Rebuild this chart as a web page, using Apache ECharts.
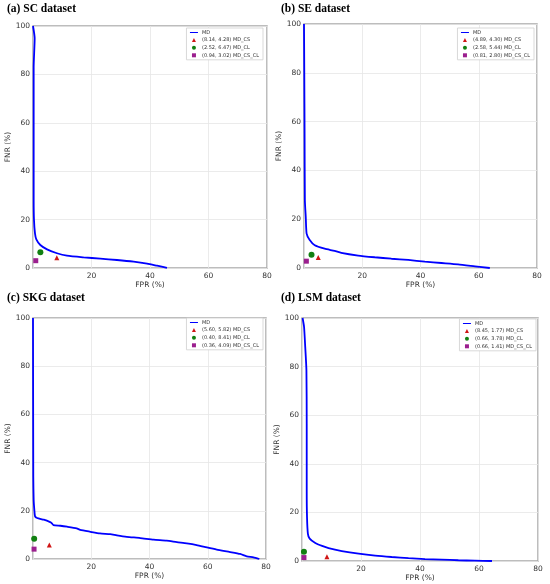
<!DOCTYPE html>
<html>
<head>
<meta charset="utf-8">
<script src="https://cdn.jsdelivr.net/npm/echarts@6/dist/echarts.min.js"></script>
<style>
  html, body { margin: 0; padding: 0; background: #fff; }
  #chart { width: 550px; height: 584px; }
</style>
</head>
<body>
<div id="chart"></div>
<script>
// panel titles
const titles = ['(a) SC dataset', '(b) SE dataset', '(c) SKG dataset', '(d) LSM dataset'];
const xTicks = [0, 20, 40, 60, 80];
const yTicks = [0, 20, 40, 60, 80, 100];

// MD curves (FPR %, FNR %)
const scFpr = [0, 0.57, 0.23, 0.23, 0.34, 0.68, 1.14, 2.5, 4.8, 8.2, 11.6, 17.3, 23, 28.7, 34.4, 39, 42.4, 45.8];
const scFnr = [100, 94.9, 83, 28, 19.8, 14.3, 11.8, 9.5, 7.7, 6.1, 5.1, 4.4, 3.86, 3.3, 2.6, 1.8, 0.96, 0.1];

const seFpr = [0, 0.1, 0.2, 0.3, 0.6, 0.9, 1.9, 3.7, 7.1, 10.5, 12.8, 18.6, 24.3, 30, 35.8, 41.5, 47.2, 52.9, 58.7, 63.8];
const seFnr = [100, 80, 55, 27.8, 21, 14.1, 11.6, 9.3, 7.9, 7.0, 6.2, 5.1, 4.4, 3.8, 3.3, 2.6, 2.05, 1.5, 0.7, 0];

const skgFpr = [0, 0.1, 0.23, 0.46, 0.7, 1.4, 3.7, 5.9, 6.4, 7, 9.4, 11.7, 15, 16.2, 19.7, 23, 26.5, 28.8, 32.2, 36.8, 41.4, 45.9, 49.4, 52.8, 56.2, 59.7, 63.1, 67.7, 71.1, 73.4, 75.7, 77.7];
const skgFnr = [100, 34, 24.5, 20.4, 17.7, 17, 16.3, 15.3, 14.9, 14.1, 13.8, 13.4, 12.7, 12.1, 11.3, 10.6, 10.3, 9.8, 9.2, 8.7, 8.0, 7.6, 7.0, 6.5, 5.8, 4.8, 3.9, 2.9, 2.1, 1.1, 0.7, 0];

const lsmFpr = [0.2, 0.7, 1.1, 1.5, 1.6, 1.6, 1.7, 2.0, 2.6, 4.5, 6.8, 9.0, 13.5, 19.2, 24.8, 30.4, 36.1, 41.7, 47.3, 53, 58.6, 64.4];
const lsmFnr = [100, 96.3, 88, 78.5, 56.5, 29, 18.1, 11.2, 9.2, 7.4, 6.2, 5.3, 4.1, 3.0, 2.2, 1.65, 1.2, 0.8, 0.55, 0.3, 0.14, 0];

// operating points: [MD_CS, MD_CL, MD_CS_CL] per dataset
const csPoints = [[8.14, 4.28], [4.89, 4.30], [5.60, 5.82], [8.45, 1.77]];
const clPoints = [[2.52, 6.47], [2.58, 5.44], [0.40, 8.41], [0.66, 3.78]];
const csclPoints = [[0.94, 3.02], [0.81, 2.80], [0.36, 4.09], [0.66, 1.41]];

const curveX = [scFpr, seFpr, skgFpr, lsmFpr];
const curveY = [scFnr, seFnr, skgFnr, lsmFnr];

// layout
const grids = [
  { left: 33, top: 26, width: 234, height: 242 },
  { left: 304, top: 24, width: 233, height: 244 },
  { left: 33, top: 318, width: 233, height: 241 },
  { left: 302, top: 318, width: 236, height: 243 },
];
const titlePos = [[7, 3], [281, 3], [7, 292], [281, 292]];
const legendPos = [
  { right: 287, top: 28 },
  { right: 16, top: 28 },
  { right: 287, top: 318 },
  { right: 14, top: 319 },
];

const colors = { md: '#0000ff', cs: '#d01515', cl: '#118011', cscl: '#9b1f8e' };
const fmt = p => '(' + p[0].toFixed(2) + ', ' + p[1].toFixed(2) + ') ';

const option = {
  animation: false,
  backgroundColor: '#fff',
  title: titles.map((t, i) => ({
    text: t,
    left: titlePos[i][0],
    top: titlePos[i][1],
    padding: 0,
    textStyle: { fontFamily: 'Liberation Serif', fontWeight: 'bold', fontSize: 11.5, color: '#000' },
  })),
  grid: grids.map(g => ({ ...g, show: true, borderColor: '#a8a8a8', borderWidth: 1.5, backgroundColor: '#fff' })),
  xAxis: grids.map((g, i) => ({
    gridIndex: i,
    type: 'value',
    min: xTicks[0],
    max: xTicks[xTicks.length - 1],
    interval: 20,
    name: 'FPR (%)',
    nameLocation: 'middle',
    nameGap: 11,
    nameTextStyle: { fontFamily: 'DejaVu Sans', fontSize: 7.5, color: '#333' },
    axisLine: { show: false },
    axisTick: { show: false },
    axisLabel: { showMinLabel: false, margin: 4, fontFamily: 'DejaVu Sans', fontSize: 7.5, color: '#333' },
    splitLine: { lineStyle: { color: '#e6e6e6', width: 0.8 } },
  })),
  yAxis: grids.map((g, i) => ({
    gridIndex: i,
    type: 'value',
    min: yTicks[0],
    max: yTicks[yTicks.length - 1],
    interval: 20,
    name: 'FNR (%)',
    nameLocation: 'middle',
    nameGap: 16,
    nameTextStyle: { fontFamily: 'DejaVu Sans', fontSize: 7.5, color: '#333' },
    axisLine: { show: false },
    axisTick: { show: false },
    axisLabel: { margin: 3, fontFamily: 'DejaVu Sans', fontSize: 7.5, color: '#333' },
    splitLine: { lineStyle: { color: '#e6e6e6', width: 0.8 } },
  })),
  legend: grids.map((g, i) => ({
    ...legendPos[i],
    orient: 'vertical',
    align: 'left',
    padding: [2, 4, 2, 3],
    itemGap: 2.6,
    itemWidth: 8,
    itemHeight: 5,
    borderColor: '#cfcfcf',
    borderWidth: 0.8,
    backgroundColor: '#fff',
    selectedMode: false,
    textStyle: { fontFamily: 'DejaVu Sans', fontSize: 5, color: '#333', padding: [0, 0, 0, -1] },
    data: [
      { name: 'MD', itemStyle: { opacity: 0 }, lineStyle: { width: 1 } },
      fmt(csPoints[i]) + 'MD_CS',
      fmt(clPoints[i]) + 'MD_CL',
      fmt(csclPoints[i]) + 'MD_CS_CL',
    ],
  })),
  series: [],
};

grids.forEach((g, i) => {
  option.series.push({
    name: 'MD',
    type: 'line',
    xAxisIndex: i,
    yAxisIndex: i,
    symbol: 'none',
    smooth: 0.2,
    lineStyle: { color: colors.md, width: 1.8 },
    itemStyle: { color: colors.md },
    data: curveX[i].map((x, k) => [x, curveY[i][k]]),
  });
  const markers = [
    [fmt(csPoints[i]) + 'MD_CS', csPoints[i], 'triangle', 5, colors.cs],
    [fmt(clPoints[i]) + 'MD_CL', clPoints[i], 'circle', 6, colors.cl],
    [fmt(csclPoints[i]) + 'MD_CS_CL', csclPoints[i], 'rect', 5, colors.cscl],
  ];
  markers.forEach(m => {
    option.series.push({
      name: m[0],
      type: 'line',
      xAxisIndex: i,
      yAxisIndex: i,
      symbol: m[2],
      symbolSize: m[3],
      showSymbol: true,
      clip: false,
      lineStyle: { width: 0, color: m[4] },
      itemStyle: { color: m[4], borderWidth: 0 },
      data: [m[1]],
    });
  });
});

const chart = echarts.init(document.getElementById('chart'));
chart.setOption(option);
</script>
</body>
</html>
